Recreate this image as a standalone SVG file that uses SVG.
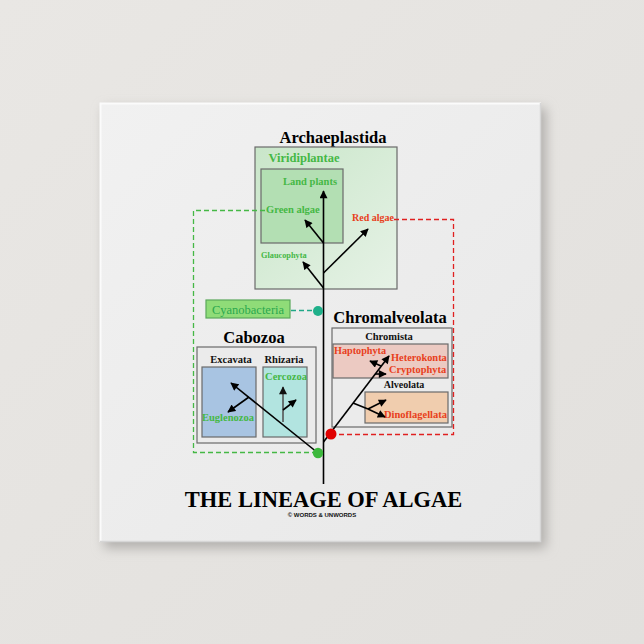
<svg xmlns="http://www.w3.org/2000/svg" width="644" height="644" viewBox="0 0 644 644">
<defs>
<linearGradient id="bg" x1="0" y1="0" x2="1" y2="1">
<stop offset="0" stop-color="#e9e7e4"/><stop offset="1" stop-color="#e2e0dd"/>
</linearGradient>
<linearGradient id="face" x1="0" y1="0" x2="1" y2="1">
<stop offset="0" stop-color="#f1f1f1"/><stop offset="1" stop-color="#e8e8e8"/>
</linearGradient>
<linearGradient id="archG" x1="0" y1="0" x2="1" y2="1">
<stop offset="0" stop-color="#c9e6c9"/><stop offset="1" stop-color="#e6f2e6"/>
</linearGradient>
<filter id="sh" x="-10%" y="-10%" width="130%" height="130%">
<feGaussianBlur stdDeviation="6"/>
</filter>
<marker id="ah" viewBox="0 0 10 10" refX="9" refY="5" markerWidth="9" markerHeight="8" orient="auto" markerUnits="userSpaceOnUse">
<path d="M0,0 L10,5 L0,10 z" fill="#000"/>
</marker>
<marker id="ahg" viewBox="0 0 10 10" refX="9" refY="5" markerWidth="9" markerHeight="8" orient="auto" markerUnits="userSpaceOnUse">
<path d="M0,0 L10,5 L0,10 z" fill="#111"/>
</marker>
</defs>
<style>
.t{font-family:"Liberation Serif","Times New Roman",serif;font-weight:bold}
.h{font-size:16.5px;fill:#000}
.g{fill:#45b845}
.r{fill:#e8401c}
.k{fill:#111}
.box{stroke:#6a6a6a;stroke-width:1.2}
.arr{stroke:#000;stroke-width:1.6;fill:none;marker-end:url(#ah)}
.dash{fill:none;stroke-width:1.3;stroke-dasharray:5,3}
</style>
<rect width="644" height="644" fill="url(#bg)"/>
<rect x="104" y="108" width="442" height="440" fill="#b0aeab" filter="url(#sh)"/>
<rect x="100" y="103" width="441" height="439" fill="url(#face)"/>
<path d="M100.5,542 V103.5 H541" fill="none" stroke="#fbfbfb" stroke-width="2"/>
<path d="M100,541.5 H540.5 V103" fill="none" stroke="#d6d6d6" stroke-width="1.5"/>

<g id="archaeplastida">
<text class="t h" x="333" y="143" text-anchor="middle">Archaeplastida</text>
<rect class="box" x="255" y="147" width="142" height="142" fill="url(#archG)"/>
</g>
<g id="viridiplantae">
<text class="t g" x="304" y="162" text-anchor="middle" font-size="12.5">Viridiplantae</text>
<rect class="box" x="261" y="169" width="82" height="74" fill="#b3dfb3"/>
</g>
<g id="land-plants"><text class="t g" x="310" y="185" text-anchor="middle" font-size="10.5">Land plants</text></g>
<g id="green-algae"><text class="t g" x="266" y="213" font-size="10.5">Green algae</text></g>
<g id="red-algae"><text class="t r" x="352" y="221" font-size="10">Red algae</text></g>
<g id="glaucophyta"><text class="t g" x="261" y="258" font-size="8.3">Glaucophyta</text></g>

<g id="cyanobacteria">
<rect x="206" y="300" width="84" height="18" fill="#8fdc78" stroke="#5aa85a" stroke-width="1.2"/>
<text x="248" y="314" text-anchor="middle" font-family="Liberation Serif, Times New Roman, serif" font-size="12.5" fill="#2aa84e">Cyanobacteria</text>
</g>

<g id="cabozoa">
<text class="t h" x="254" y="343" text-anchor="middle">Cabozoa</text>
<rect class="box" x="197" y="347" width="119" height="96" fill="#ebebeb"/>
</g>
<g id="excavata">
<text class="t k" x="231" y="363" text-anchor="middle" font-size="10.5">Excavata</text>
<rect class="box" x="202" y="367" width="54" height="70" fill="#a8c4e2"/>
</g>
<g id="rhizaria">
<text class="t k" x="284" y="363" text-anchor="middle" font-size="10.5">Rhizaria</text>
<rect class="box" x="263" y="367" width="44" height="70" fill="#b2e4e0"/>
</g>
<g id="euglenozoa"><text class="t g" x="228" y="421" text-anchor="middle" font-size="10.5">Euglenozoa</text></g>
<g id="cercozoa"><text class="t g" x="286" y="380" text-anchor="middle" font-size="10.5">Cercozoa</text></g>

<g id="chromalveolata">
<text class="t h" x="390" y="323" text-anchor="middle">Chromalveolata</text>
<rect class="box" x="332" y="328" width="120" height="99" fill="#ebebeb"/>
</g>
<g id="chromista">
<text class="t k" x="389" y="340" text-anchor="middle" font-size="10.5">Chromista</text>
<rect class="box" x="333" y="344" width="115" height="34" fill="#eccac2"/>
</g>
<g id="haptophyta"><text class="t r" x="334" y="354" font-size="10.2">Haptophyta</text></g>
<g id="heterokonta"><text class="t r" x="391" y="361" font-size="10.4">Heterokonta</text></g>
<g id="cryptophyta"><text class="t r" x="389" y="373" font-size="10.4">Cryptophyta</text></g>
<g id="alveolata">
<text class="t k" x="404" y="388" text-anchor="middle" font-size="10">Alveolata</text>
<rect class="box" x="365" y="392" width="83" height="31" fill="#f0cdae"/>
</g>
<g id="dinoflagellata"><text class="t r" x="384" y="418" font-size="10.5">Dinoflagellata</text></g>

<g id="connectors">
<path class="dash" stroke="#45b845" d="M265,210.5 H193.5 V452.5 H313"/>
<path class="dash" stroke="#e02020" d="M394,219.5 H453.5 V434.5 H336"/>
<path class="dash" stroke="#20a888" d="M291,310.5 H313"/>
<line class="arr" x1="323.5" y1="484" x2="323.5" y2="191"/>
<line class="arr" x1="323.5" y1="243" x2="305" y2="220"/>
<line class="arr" x1="323.5" y1="273" x2="368" y2="229"/>
<line class="arr" x1="323.5" y1="288" x2="303" y2="262"/>
<line class="arr" x1="318" y1="453" x2="231" y2="383"/>
<line class="arr" x1="249" y1="397" x2="228" y2="412"/>
<line x1="283" y1="422" x2="283" y2="387" stroke="#555" stroke-width="1.6" marker-end="url(#ahg)"/>
<line class="arr" x1="283" y1="410" x2="296" y2="400"/>
<line class="arr" x1="323.5" y1="442" x2="389" y2="356"/>
<line class="arr" x1="381" y1="366" x2="370" y2="361"/>
<line class="arr" x1="375" y1="374" x2="386" y2="374"/>
<polyline points="353,403 368,409" stroke="#000" stroke-width="1.6" fill="none"/>
<line class="arr" x1="368" y1="409" x2="386" y2="400"/>
<line class="arr" x1="368" y1="409" x2="385" y2="417"/>
</g>
<g id="junctions">
<circle cx="318" cy="311" r="5" fill="#1fb08a"/>
<circle cx="318" cy="453" r="5.2" fill="#3cb83c"/>
<circle cx="331" cy="434" r="5.5" fill="#e00000"/>
</g>

<g id="title">
<text class="t" x="323.5" y="507" text-anchor="middle" font-size="22.5" fill="#000">THE LINEAGE OF ALGAE</text>
<text x="322" y="517" text-anchor="middle" font-family="Liberation Sans, Arial, sans-serif" font-weight="bold" font-size="6" fill="#111">© WORDS &amp; UNWORDS</text>
</g>
</svg>
